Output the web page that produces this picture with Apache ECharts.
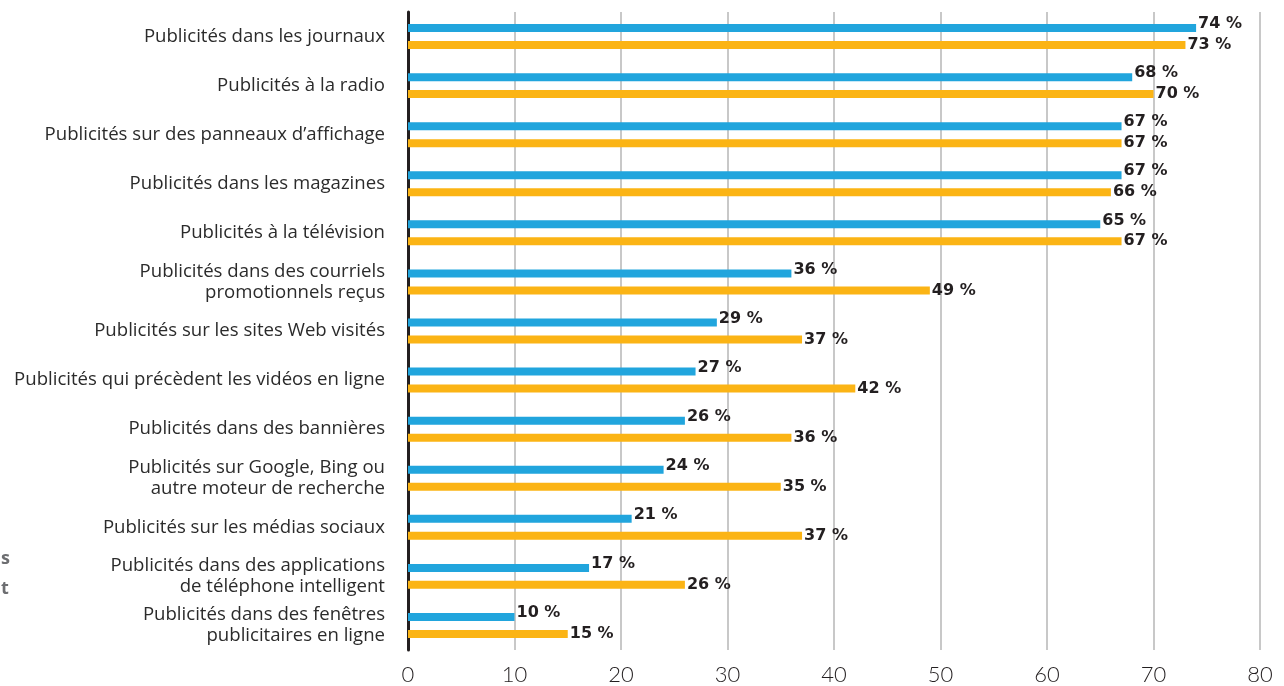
<!DOCTYPE html>
<html>
<head>
<meta charset="utf-8">
<script src="https://cdn.jsdelivr.net/npm/echarts@6/dist/echarts.min.js"></script>
<style>
html,body{margin:0;padding:0;background:#fff;}
#chart{width:1284px;height:686px;}
</style>
</head>
<body>
<div id="chart"></div>
<script>
const categories = [
  "Publicités dans les journaux",
  "Publicités à la radio",
  "Publicités sur des panneaux d’affichage",
  "Publicités dans les magazines",
  "Publicités à la télévision",
  "Publicités dans des courriels\npromotionnels reçus",
  "Publicités sur les sites Web visités",
  "Publicités qui précèdent les vidéos en ligne",
  "Publicités dans des bannières",
  "Publicités sur Google, Bing ou\nautre moteur de recherche",
  "Publicités sur les médias sociaux",
  "Publicités dans des applications\nde téléphone intelligent",
  "Publicités dans des fenêtres\npublicitaires en ligne"
];
const seriesBlue = [74, 68, 67, 67, 65, 36, 29, 27, 26, 24, 21, 17, 10];
const seriesOrange = [73, 70, 67, 66, 67, 49, 37, 42, 36, 35, 37, 26, 15];
const xTicks = { min: 0, max: 80, interval: 10 };

const chart = echarts.init(document.getElementById('chart'), null, {renderer: 'canvas'});
const labelStyle = {
  show: true,
  position: 'right',
  distance: 2,
  formatter: '{c} %',
  fontFamily: '"DejaVu Sans", sans-serif',
  fontWeight: 'bold',
  fontSize: 16,
  color: '#231f20'
};
chart.setOption({
  animation: false,
  backgroundColor: '#ffffff',
  grid: { left: 408, right: 24, top: 12, bottom: 30, containLabel: false },
  xAxis: {
    type: 'value',
    min: xTicks.min, max: xTicks.max, interval: xTicks.interval,
    axisLine: { show: false },
    axisTick: { show: false },
    axisLabel: {
      margin: 14,
      fontFamily: 'Lato, "Open Sans", sans-serif',
      fontWeight: 300,
      fontSize: 22,
      color: '#231f20'
    },
    splitLine: { show: true, lineStyle: { color: '#c8c8c8', width: 2 } }
  },
  yAxis: {
    type: 'category',
    inverse: true,
    data: categories,
    axisLine: { show: true, lineStyle: { color: '#231f20', width: 3 } },
    axisTick: { show: false },
    axisLabel: {
      margin: 23,
      fontFamily: '"Open Sans", sans-serif',
      fontSize: 18.6,
      lineHeight: 21,
      color: '#2b2b2b',
      align: 'right'
    },
    splitLine: { show: false }
  },
  series: [
    {
      type: 'bar',
      data: seriesBlue,
      barWidth: 8,
      barGap: '112%',
      itemStyle: { color: '#21a5dd' },
      label: Object.assign({}, labelStyle, { offset: [0, -4] })
    },
    {
      type: 'bar',
      data: seriesOrange,
      barWidth: 8,
      itemStyle: { color: '#fbb415' },
      label: Object.assign({}, labelStyle, { offset: [0, 0] })
    }
  ],
  graphic: [
    { type: 'text', left: 1, top: 550, style: { text: 's', font: 'bold 18px "Open Sans", sans-serif', fill: '#6d6e71' } },
    { type: 'text', left: 1, top: 580, style: { text: 't', font: 'bold 18px "Open Sans", sans-serif', fill: '#6d6e71' } }
  ]
});
</script>
</body>
</html>
